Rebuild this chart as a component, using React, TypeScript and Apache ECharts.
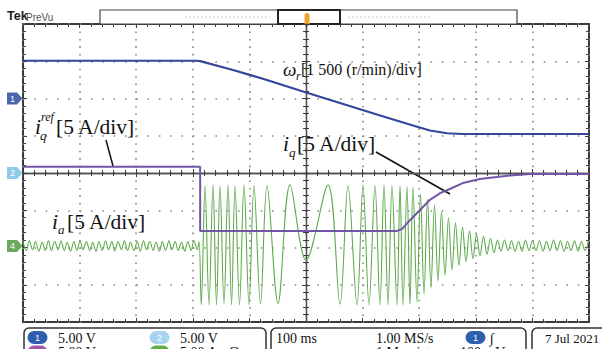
import React, { useEffect, useRef } from "react";
import * as echarts from "echarts";

// ---- time axis: ms relative to screen centre, 100 ms/div ----
// speed omega_r (r/min), ch1, offset +2 div, 1500 (r/min)/div
const omegaT = [-500, -193, -187, -129, -69, -11, 60, 131, 189, 219, 249, 277, 500];
const omegaV = [1520, 1520, 1505, 1150, 745, 320, -180, -685, -1085, -1290, -1400, -1430, -1430];

// iq / iq_ref (A), offset 0 div, 5 A/div
const iqT = [-500, -187, -187, 160, 170, 184, 201, 219, 237, 254, 277, 307, 337, 366, 396, 500];
const iqV = [0.85, 0.85, -7.8, -7.8, -7.5, -6.3, -5.0, -3.6, -2.7, -2.15, -1.35, -0.8, -0.55, -0.3, -0.15, -0.15];

// phase current ia (A), ch4, offset -1.96 div, 5 A/div — extrema
const iaT = [
  -500, -494, -489, -483, -478, -472, -466, -461,
  -455, -450, -444, -438, -433, -427, -422, -416,
  -410, -405, -399, -394, -388, -382, -377, -371,
  -366, -360, -354, -349, -343, -338, -332, -326,
  -321, -315, -310, -304, -298, -293, -287, -282,
  -276, -270, -265, -259, -254, -248, -242, -237,
  -231, -226, -220, -214, -209, -203, -198, -192,
  -189, -185, -178.4, -171.4, -164.3, -158.1, -151.9, -144.9,
  -137.8, -131.6, -125.4, -117.5, -109.5, -100.7, -91.9, -80.4,
  -68.9, -49.4, -28.3, 0, 38.9, 60.1, 74.2, 90.1,
  100.7, 111.3, 121.9, 130.7, 137.8, 144.9, 151.9, 160.8,
  166.1, 171.4, 178.4, 183.7, 189, 196.1, 202.3, 208.5,
  214.7, 220.8, 227, 233.2, 239.4, 245.6, 251.8, 258,
  264.1, 270.3, 276.5, 282.7, 288.9, 295.1, 301.2, 307.4,
  313.6, 319.8, 326, 332.2, 338.4, 344.5, 350.7, 356.9,
  363.1, 369.3, 375.4, 381.6, 387.8, 394, 400.2, 406.4,
  412.5, 418.7, 424.9, 431.1, 437.3, 443.5, 449.6, 455.8,
  462, 468.2, 474.4, 480.5, 486.7, 492.9, 499.1,
];
const iaV = [
  0.6, -0.6, 0.7, -0.5, 0.6, -0.7, 0.5, -0.6,
  0.7, -0.6, 0.6, -0.5, 0.7, -0.6, 0.5, -0.7,
  0.6, -0.6, 0.7, -0.5, 0.6, -0.6, 0.5, -0.7,
  0.6, -0.6, 0.7, -0.5, 0.6, -0.7, 0.6, -0.5,
  0.7, -0.6, 0.5, -0.6, 0.6, -0.7, 0.7, -0.5,
  0.6, -0.6, 0.5, -0.7, 0.6, -0.6, 0.7, -0.5,
  0.6, -0.6, 0.5, -0.7, 0.6, -0.6, 0.7, -0.5,
  0.6, -7.9, 8.1, -7.9, 8.2, -7.9, 8.1, -7.8,
  8.2, -7.9, 8.1, -7.9, 8.2, -7.9, 8.1, -7.8,
  8.1, -7.7, 8.2, -1.9, 8.2, -7.8, 8.1, -7.9,
  8.2, -7.9, 8.1, -7.9, 8.2, -7.9, 8.1, -7.9,
  8.1, -7.9, 8.0, -7.8, 7.9, -7.5, 7.0, -6.5,
  6.3, -5.6, 5.5, -4.7, 4.6, -3.9, 3.8, -3.2,
  3.1, -2.6, 2.5, -2.1, 2.0, -1.7, 1.6, -1.3,
  1.3, -1.1, 1.0, -0.9, 0.8, -0.7, 0.8, -0.6,
  0.7, -0.7, 0.6, -0.7, 0.8, -0.6, 0.7, -0.6,
  0.7, -0.7, 0.6, -0.6, 0.8, -0.6, 0.7, -0.7,
  0.6, -0.6, 0.7, -0.7, 0.6, -0.6, 0.7,
];

const OMEGA_OFFSET = 2, OMEGA_PER_DIV = 1500;
const IQ_OFFSET = 0, IQ_PER_DIV = 5;
const IA_OFFSET = -1.96, IA_PER_DIV = 5;

const SERIF = "'Liberation Serif', 'DejaVu Serif', serif";
const SANS = "'Liberation Sans', Arial, sans-serif";

const TICK = { color: "#3d3d3d", width: 1 };

function txt(x: number, y: number, text: string, font: string, extra: any = {}) {
  return {
    type: "text",
    silent: true,
    style: { x, y, text, font, fill: "#111", verticalAlign: "middle", align: "left", ...extra },
  };
}

function pill(x: number, y: number, fill: string, label: string) {
  return {
    type: "group",
    silent: true,
    children: [
      { type: "rect", shape: { x: x - 10, y: y - 6.5, width: 20, height: 13, r: 6.5 }, style: { fill } },
      { type: "text", style: { x, y, text: label, font: `9px ${SANS}`, fill: "#fff", align: "center", verticalAlign: "middle" } },
    ],
  };
}

function chanMarker(y: number, fill: string, label: string) {
  return {
    type: "group",
    silent: true,
    children: [
      { type: "polygon", shape: { points: [[7, y - 6], [17, y - 6], [22.5, y], [17, y + 6], [7, y + 6]] }, style: { fill } },
      { type: "text", style: { x: 12.5, y, text: label, font: `9px ${SANS}`, fill: "#fff", align: "center", verticalAlign: "middle" } },
    ],
  };
}

export default function App() {
  const ref = useRef<HTMLDivElement>(null);
  useEffect(() => {
    if (!ref.current) return;
    const chart = echarts.init(ref.current, undefined, { renderer: "svg" });

    const baseX = { type: "value", min: -500, max: 500, interval: 100, axisLabel: { show: false }, splitLine: { show: false } };
    const baseY = { type: "value", min: -4, max: 4, interval: 1, axisLabel: { show: false }, splitLine: { show: false } };

    const option: any = {
      animation: false,
      backgroundColor: "#ffffff",
      textStyle: { fontFamily: SERIF },
      grid: { left: 23, right: 13, top: 24, bottom: 27, show: true, borderColor: "#3a3a3a", borderWidth: 2, backgroundColor: "transparent" },
      xAxis: [
        {
          ...baseX, position: "bottom",
          axisLine: { show: true, onZero: true, onZeroAxisIndex: 0, lineStyle: { color: "#505050", width: 1.3 } },
          axisTick: { show: true, length: 4, lineStyle: TICK },
          minorTick: { show: true, splitNumber: 5, length: 3, lineStyle: TICK },
          splitLine: { show: true, lineStyle: { color: "#888", width: 1.6, type: [1.6, 5.85] } },
        },
        {
          ...baseX, position: "top",
          axisLine: { show: true, onZero: true, onZeroAxisIndex: 1, lineStyle: { color: "#505050", width: 1.3 } },
          axisTick: { show: true, length: 4, lineStyle: TICK },
          minorTick: { show: true, splitNumber: 5, length: 3, lineStyle: TICK },
        },
        {
          ...baseX, position: "bottom",
          axisLine: { show: false, onZero: false },
          axisTick: { show: true, inside: true, length: 4, lineStyle: TICK },
          minorTick: { show: true, splitNumber: 5, length: 3, lineStyle: TICK },
        },
        {
          ...baseX, position: "top",
          axisLine: { show: false, onZero: false },
          axisTick: { show: true, inside: true, length: 4, lineStyle: TICK },
          minorTick: { show: true, splitNumber: 5, length: 3, lineStyle: TICK },
        },
      ],
      yAxis: [
        {
          ...baseY, position: "left",
          axisLine: { show: true, onZero: true, onZeroAxisIndex: 0, lineStyle: { color: "#505050", width: 1.3 } },
          axisTick: { show: true, length: 4, lineStyle: TICK },
          minorTick: { show: true, splitNumber: 5, length: 3, lineStyle: TICK },
          splitLine: { show: true, lineStyle: { color: "#888", width: 1.6, type: [1.6, 9.72] } },
        },
        {
          ...baseY, position: "right",
          axisLine: { show: true, onZero: true, onZeroAxisIndex: 1, lineStyle: { color: "#505050", width: 1.3 } },
          axisTick: { show: true, length: 4, lineStyle: TICK },
          minorTick: { show: true, splitNumber: 5, length: 3, lineStyle: TICK },
        },
        {
          ...baseY, position: "left",
          axisLine: { show: false, onZero: false },
          axisTick: { show: true, inside: true, length: 4, lineStyle: TICK },
          minorTick: { show: true, splitNumber: 5, length: 3, lineStyle: TICK },
        },
        {
          ...baseY, position: "right",
          axisLine: { show: false, onZero: false },
          axisTick: { show: true, inside: true, length: 4, lineStyle: TICK },
          minorTick: { show: true, splitNumber: 5, length: 3, lineStyle: TICK },
        },
      ],
      series: [
        {
          type: "line", name: "ia", silent: true, symbol: "none", smooth: 0.35, z: 3,
          data: iaT.map((t, i) => [t, IA_OFFSET + iaV[i] / IA_PER_DIV]),
          lineStyle: { color: "#5dab4b", width: 1.1 },
        },
        {
          type: "line", name: "iq", silent: true, symbol: "none", z: 4,
          data: iqT.map((t, i) => [t, IQ_OFFSET + iqV[i] / IQ_PER_DIV]),
          lineStyle: { color: "#7256a6", width: 2 },
        },
        {
          type: "line", name: "omega", silent: true, symbol: "none", z: 5,
          data: omegaT.map((t, i) => [t, OMEGA_OFFSET + omegaV[i] / OMEGA_PER_DIV]),
          lineStyle: { color: "#34469a", width: 2.2 },
        },
      ],
    };
    chart.setOption(option);

    const py = (v: number) => chart.convertToPixel({ yAxisIndex: 0 }, v) as number;

    const it = `italic 21.5px ${SERIF}`;
    const rg = `21.5px ${SERIF}`;
    const graphic: any[] = [
      // header
      txt(7, 16, "Tek", `bold 12.5px ${SANS}`, { fill: "#1a1a1a" }),
      txt(26, 17, "PreVu", `10px ${SANS}`, { fill: "#555" }),
      { type: "rect", silent: true, shape: { x: 100, y: 10, width: 417, height: 14 }, style: { fill: "#fff", stroke: "#444", lineWidth: 1.2 } },
      { type: "line", silent: true, shape: { x1: 185, y1: 17, x2: 270, y2: 17 }, style: { stroke: "#c8c8c8", lineWidth: 1, lineDash: [2, 2] } },
      { type: "line", silent: true, shape: { x1: 348, y1: 17, x2: 432, y2: 17 }, style: { stroke: "#c8c8c8", lineWidth: 1, lineDash: [2, 2] } },
      { type: "rect", silent: true, shape: { x: 278, y: 10, width: 62, height: 14 }, style: { fill: "none", stroke: "#222", lineWidth: 2 } },
      { type: "rect", silent: true, shape: { x: 304.5, y: 13, width: 5, height: 13, r: 2.5 }, style: { fill: "#f0a22e" } },

      // channel markers
      chanMarker(py(OMEGA_OFFSET), "#4a66ad", "1"),
      chanMarker(py(IQ_OFFSET), "#8ecbea", "2"),
      chanMarker(py(IA_OFFSET), "#6aaa5c", "4"),

      // annotations
      txt(283, 69, "ω", `italic 19px ${SERIF}`),
      txt(296, 76, "r", `italic 12px ${SERIF}`),
      txt(301, 69, "[1 500 (r/min)/div]", `16px ${SERIF}`),

      txt(35, 127, "i", it),
      txt(41, 117, "ref", `italic 12px ${SERIF}`),
      txt(40, 135, "q", `italic 13px ${SERIF}`),
      txt(56, 127, "[5 A/div]", rg),
      { type: "line", silent: true, shape: { x1: 106, y1: 140, x2: 113, y2: 166 }, style: { stroke: "#111", lineWidth: 1.5 } },

      txt(283, 144, "i", it),
      txt(289, 152, "q", `italic 13px ${SERIF}`),
      txt(297, 144, "[5 A/div]", rg),
      { type: "line", silent: true, shape: { x1: 376, y1: 152, x2: 450, y2: 194 }, style: { stroke: "#111", lineWidth: 1.5 } },

      txt(52, 222, "i", it),
      txt(58, 229, "a", `italic 13px ${SERIF}`),
      txt(67, 222, "[5 A/div]", rg),

      // status panel
      { type: "rect", silent: true, shape: { x: 24, y: 328, width: 242, height: 32, r: 5 }, style: { fill: "#fff", stroke: "#333", lineWidth: 1.5 } },
      { type: "rect", silent: true, shape: { x: 271, y: 328, width: 255, height: 32, r: 5 }, style: { fill: "#fff", stroke: "#333", lineWidth: 1.5 } },
      { type: "rect", silent: true, shape: { x: 532, y: 328, width: 80, height: 32, r: 5 }, style: { fill: "#fff", stroke: "#333", lineWidth: 1.5 } },

      pill(37.5, 337.5, "#2e5fae", "1"),
      txt(58, 338, "5.00 V", `14px ${SERIF}`),
      pill(159.5, 337.5, "#a6d3f0", "2"),
      txt(180, 338, "5.00 V", `14px ${SERIF}`),
      pill(37.5, 352, "#a05aa8", "3"),
      txt(58, 352, "5.00 V", `14px ${SERIF}`),
      pill(159.5, 352, "#5fae4a", "4"),
      txt(180, 352, "5.00 A", `14px ${SERIF}`),
      txt(229, 352, "Ω", `14px ${SERIF}`),

      txt(276, 338, "100 ms", `14px ${SERIF}`),
      txt(376, 338, "1.00 MS/s", `14px ${SERIF}`),
      txt(376, 352, "1 M points", `14px ${SERIF}`),
      pill(475.5, 337.5, "#2e5fae", "1"),
      txt(490, 338, "∫", `italic 14px ${SERIF}`),
      txt(452, 352, "−100 mV", `14px ${SERIF}`),

      txt(545, 338, "7 Jul 2021", `13px ${SERIF}`),
      txt(545, 352, "19:13:27", `13px ${SERIF}`),
    ];
    chart.setOption({ graphic });

    return () => chart.dispose();
  }, []);

  return (
    <div
      ref={ref}
      style={{ position: "fixed", left: 0, top: 0, width: 602, height: 349, background: "#fff" }}
    />
  );
}
